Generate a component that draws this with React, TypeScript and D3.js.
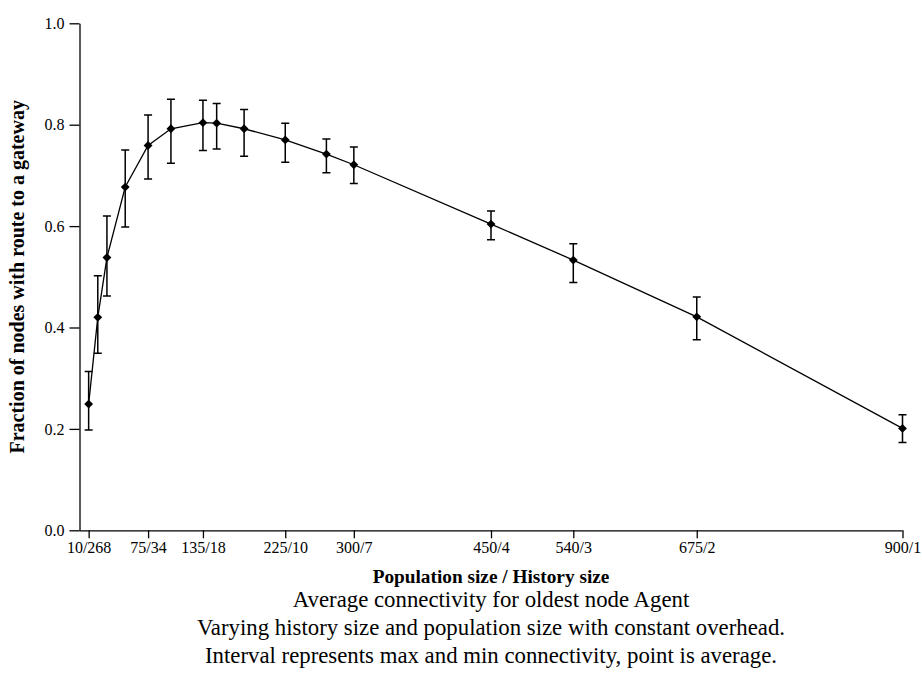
import React, { useEffect, useRef } from "react";
import * as d3 from "d3";

// population size for each run (x position)
const population = [10, 20, 30, 50, 75, 100, 135, 150, 180, 225, 270, 300, 450, 540, 675, 900];
// average connectivity
const average = [0.249, 0.42, 0.538, 0.677, 0.759, 0.792, 0.804, 0.803, 0.792, 0.77, 0.742, 0.721, 0.604, 0.533, 0.421, 0.201];
// max / min connectivity
const maxConn = [0.313, 0.502, 0.62, 0.75, 0.819, 0.85, 0.848, 0.842, 0.83, 0.803, 0.772, 0.756, 0.63, 0.565, 0.46, 0.228];
const minConn = [0.198, 0.349, 0.462, 0.598, 0.693, 0.724, 0.749, 0.752, 0.738, 0.726, 0.705, 0.684, 0.573, 0.489, 0.376, 0.173];

// labelled x ticks: population / history
const tickPop = [10, 75, 135, 225, 300, 450, 540, 675, 900];
const tickLabels = ["10/268", "75/34", "135/18", "225/10", "300/7", "450/4", "540/3", "675/2", "900/1"];

const yMajor = [0, 0.2, 0.4, 0.6, 0.8, 1.0];
const yMinor = [0.1, 0.3, 0.5, 0.7, 0.9];

const caption = [
  "Average connectivity for oldest node Agent",
  "Varying history size and population size with constant overhead.",
  "Interval represents max and min connectivity, point is average.",
];

function App() {
  const ref = useRef<SVGSVGElement>(null);

  useEffect(() => {
    const width = 922;
    const height = 673;
    const left = 79.5;
    const right = 902.5;
    const top = 23.3;
    const bottom = 530.3;
    const font = "'Liberation Serif', 'Times New Roman', serif";

    const svg = d3.select(ref.current);
    svg.selectAll("*").remove();
    svg.attr("width", width).attr("height", height);

    const x = d3.scaleLinear().domain([0, 900]).range([left, right]);
    const y = d3.scaleLinear().domain([0, 1]).range([bottom, top]);

    const data = population.map((p, i) => ({
      p,
      avg: average[i],
      hi: maxConn[i],
      lo: minConn[i],
    }));

    // x axis
    const xAxis = d3
      .axisBottom(x)
      .tickValues(tickPop)
      .tickSize(8)
      .tickSizeOuter(0)
      .tickFormat((d, i) => tickLabels[i]);
    const gx = svg
      .append("g")
      .attr("transform", `translate(0,${bottom})`)
      .call(xAxis)
      .attr("font-family", font)
      .attr("font-size", 16);
    gx.select(".domain").attr("d", `M${left},0.5H${right}`).attr("stroke-width", 1.3);
    gx.selectAll(".tick line").attr("stroke-width", 1.3);
    gx.selectAll(".tick text").attr("fill", "#000").attr("y", 11);

    // y axis with minor ticks
    const gy = svg
      .append("g")
      .attr("transform", `translate(${left},0)`);
    gy.call(
      d3.axisLeft(y).tickValues(yMinor).tickSize(4).tickSizeOuter(0).tickFormat(() => "")
    );
    gy.call(
      d3.axisLeft(y).tickValues(yMajor).tickSize(10).tickSizeOuter(0).tickFormat(d3.format(".1f"))
    );
    gy.attr("font-family", font).attr("font-size", 16);
    gy.selectAll(".domain").attr("stroke-width", 1.3);
    gy.selectAll(".tick line").attr("stroke-width", 1.3);
    gy.selectAll(".tick text").attr("fill", "#000").attr("x", -15);

    // line
    const line = d3
      .line<any>()
      .x((d) => x(d.p))
      .y((d) => y(d.avg));
    svg
      .append("path")
      .datum(data)
      .attr("d", line)
      .attr("fill", "none")
      .attr("stroke", "#000")
      .attr("stroke-width", 1.3);

    // error bars
    const cap = 4;
    const eb = svg.append("g").attr("stroke", "#000").attr("stroke-width", 1.5).attr("fill", "none");
    data.forEach((d) => {
      const cx = x(d.p);
      eb.append("path").attr(
        "d",
        `M${cx},${y(d.hi)}V${y(d.lo)}M${cx - cap},${y(d.hi)}H${cx + cap}M${cx - cap},${y(d.lo)}H${cx + cap}`
      );
    });

    // diamond markers
    const sym = d3.symbol().type(d3.symbolDiamond2).size(50);
    svg
      .append("g")
      .selectAll("path")
      .data(data)
      .enter()
      .append("path")
      .attr("transform", (d) => `translate(${x(d.p)},${y(d.avg)})`)
      .attr("d", sym)
      .attr("fill", "#000");

    // axis titles
    svg
      .append("text")
      .attr("x", (left + right) / 2)
      .attr("y", 583)
      .attr("text-anchor", "middle")
      .attr("font-family", font)
      .attr("font-weight", "bold")
      .attr("font-size", 19.3)
      .text("Population size / History size");

    svg
      .append("text")
      .attr("transform", `translate(24,${(top + bottom) / 2}) rotate(-90)`)
      .attr("text-anchor", "middle")
      .attr("font-family", font)
      .attr("font-weight", "bold")
      .attr("font-size", 20)
      .text("Fraction of nodes with route to a gateway");

    // caption
    svg
      .append("g")
      .selectAll("text")
      .data(caption)
      .enter()
      .append("text")
      .attr("x", (left + right) / 2)
      .attr("y", (d, i) => 607 + i * 28)
      .attr("text-anchor", "middle")
      .attr("font-family", font)
      .attr("font-size", 22.8)
      .text((d) => d);
  }, []);

  return (
    <svg
      ref={ref}
      style={{ position: "absolute", left: 0, top: 0, background: "#fff" }}
    />
  );
}

export default App;
